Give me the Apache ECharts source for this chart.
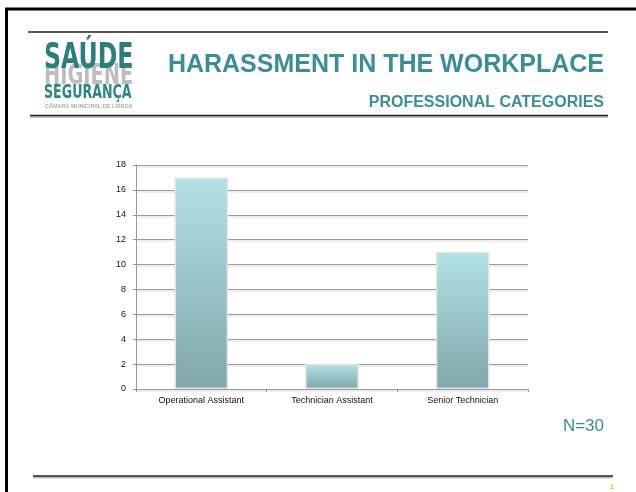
<!DOCTYPE html>
<html>
<head>
<meta charset="utf-8">
<script src="https://cdn.jsdelivr.net/npm/echarts@6/dist/echarts.min.js"></script>
<style>
html,body{margin:0;padding:0;background:#fff;}
#chart{width:636px;height:492px;}
</style>
</head>
<body>
<div id="chart"></div>
<script>
var categories = ['Operational Assistant', 'Technician Assistant', 'Senior Technician'];
var values = [17, 2, 11];
var yTicks = [0, 2, 4, 6, 8, 10, 12, 14, 16, 18];

var chart = echarts.init(document.getElementById('chart'));
var teal = '#3b8e95';
var narrow = '"Liberation Sans Narrow", "DejaVu Sans Condensed", "Liberation Sans", sans-serif';
var option = {
  backgroundColor: '#ffffff',
  animation: false,
  grid: { left: 136, right: 108, top: 165, bottom: 103 },
  xAxis: {
    type: 'category',
    data: categories,
    axisLine: { lineStyle: { color: '#999', width: 1 } },
    axisTick: { show: true, length: 3, lineStyle: { color: '#999' } },
    axisLabel: { color: '#111', fontSize: 9, fontFamily: 'Liberation Sans, Arial, sans-serif', margin: 7 }
  },
  yAxis: {
    type: 'value',
    min: yTicks[0],
    max: yTicks[yTicks.length - 1],
    interval: 2,
    axisLine: { show: true, lineStyle: { color: '#999', width: 1 } },
    axisTick: { show: true, length: 3, lineStyle: { color: '#999' } },
    axisLabel: { color: '#111', fontSize: 9, fontFamily: 'Liberation Sans, Arial, sans-serif', margin: 10 },
    splitLine: { lineStyle: { color: '#9a9a9a', width: 1, shadowColor: 'rgba(0,0,0,0.15)', shadowOffsetY: 1.5, shadowBlur: 1 } }
  },
  series: [{
    type: 'bar',
    data: values,
    barWidth: '41%',
    itemStyle: {
      color: new echarts.graphic.LinearGradient(0, 0, 0, 1, [
        { offset: 0, color: '#b2e1e6' },
        { offset: 1, color: '#80a7a9' }
      ]),
      borderColor: '#e2e2e2',
      borderWidth: 1.5
    }
  }],
  graphic: [
    // frame
    { type: 'line', shape: { x1: 5, y1: 9, x2: 636, y2: 9 }, style: { stroke: '#000', lineWidth: 3 } },
    { type: 'line', shape: { x1: 6.5, y1: 8, x2: 6.5, y2: 492 }, style: { stroke: '#000', lineWidth: 3 } },
    // header lines
    { type: 'line', shape: { x1: 28, y1: 32, x2: 608, y2: 32 }, style: { stroke: '#222', lineWidth: 1.5 } },
    { type: 'line', shape: { x1: 30, y1: 115.5, x2: 608, y2: 115.5 }, style: { stroke: '#222', lineWidth: 1.5, shadowColor: 'rgba(0,0,0,0.3)', shadowOffsetY: 1.5 } },
    { type: 'line', shape: { x1: 33, y1: 476, x2: 613, y2: 476 }, style: { stroke: '#222', lineWidth: 1.5, shadowColor: 'rgba(0,0,0,0.3)', shadowOffsetY: 1.5 } },
    // logo
    { type: 'text', x: 44, y: 63, scaleX: 0.77, style: { text: 'HIGIENE', fill: '#bdbdbd', font: 'bold 28px ' + narrow, textVerticalAlign: 'top' } },
    { type: 'text', x: 44, y: 41, scaleX: 0.73, style: { text: 'SAÚDE', fill: '#2b7f7b', font: 'bold 36px ' + narrow, textVerticalAlign: 'top' } },
    { type: 'text', x: 44, y: 84, scaleX: 0.74, style: { text: 'SEGURANÇA', fill: '#2f8780', font: 'bold 19px ' + narrow, textVerticalAlign: 'top' } },
    { type: 'text', x: 45, y: 104, scaleX: 1.2, style: { text: 'CÂMARA MUNICIPAL DE LISBOA', fill: '#9fb59a', font: 'bold 4.6px "Liberation Sans", sans-serif', textVerticalAlign: 'top' } },
    // titles
    { type: 'text', x: 604, y: 65, style: { text: 'HARASSMENT IN THE WORKPLACE', fill: teal, font: 'bold 25px "Liberation Sans", Arial, sans-serif', textAlign: 'right', textVerticalAlign: 'middle' } },
    { type: 'text', x: 604, y: 103, style: { text: 'PROFESSIONAL CATEGORIES', fill: teal, font: 'bold 16px "Liberation Sans", Arial, sans-serif', textAlign: 'right', textVerticalAlign: 'middle' } },
    { type: 'text', x: 604, y: 426, style: { text: 'N=30', fill: teal, font: '17px "Liberation Sans", Arial, sans-serif', textAlign: 'right', textVerticalAlign: 'middle' } },
    { type: 'text', x: 612, y: 487, style: { text: '1', fill: '#c6d400', font: 'bold 7px "Liberation Sans", Arial, sans-serif', textAlign: 'center', textVerticalAlign: 'middle' } }
  ]
};
chart.setOption(option);
</script>
</body>
</html>
